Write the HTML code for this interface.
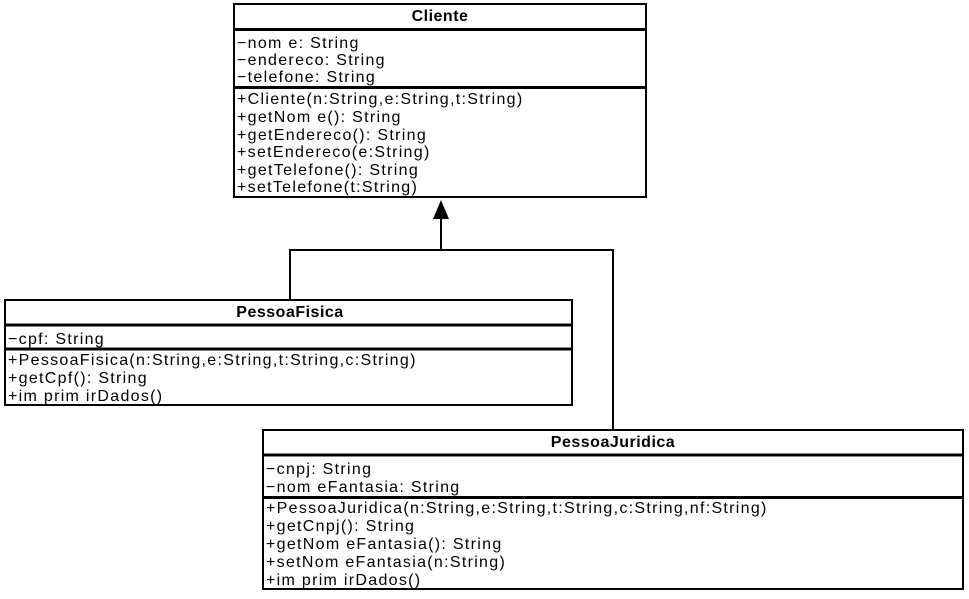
<!DOCTYPE html>
<html><head><style>
html,body{margin:0;padding:0;background:#fff;}
svg text{font-family:"Liberation Sans",Arial,sans-serif;font-size:16px;letter-spacing:1.3px;fill:#000;}
svg text.b{font-weight:bold;font-size:16px;letter-spacing:0.5px;}
</style></head><body>
<svg width="969" height="594" viewBox="0 0 969 594" xmlns="http://www.w3.org/2000/svg">
<g fill="none" stroke="#000" stroke-width="2">
<rect x="234" y="4" width="412" height="193"/>
<line x1="234" y1="29.5" x2="646" y2="29.5" stroke-width="3"/>
<line x1="234" y1="87.5" x2="646" y2="87.5" stroke-width="3"/>
<rect x="5" y="300" width="567" height="105"/>
<line x1="5" y1="325" x2="572" y2="325" stroke-width="3"/>
<line x1="5" y1="349" x2="572" y2="349" stroke-width="3"/>
<rect x="263" y="430" width="700" height="159"/>
<line x1="263" y1="455" x2="963" y2="455" stroke-width="3"/>
<line x1="263" y1="497.5" x2="963" y2="497.5" stroke-width="3"/>
<line x1="441" y1="218" x2="441" y2="250"/>
<polyline points="290,300 290,250 613,250 613,430"/>
</g>
<polygon points="441,200 433,219 449,219" fill="#000"/>
<text class="b" x="440" y="21" text-anchor="middle">Cliente</text>
<text x="237" y="48">−nom e: String</text>
<text x="237" y="65">−endereco: String</text>
<text x="237" y="82">−telefone: String</text>
<text x="237" y="104">+Cliente(n:String,e:String,t:String)</text>
<text x="237" y="122">+getNom e(): String</text>
<text x="237" y="140">+getEndereco(): String</text>
<text x="237" y="157">+setEndereco(e:String)</text>
<text x="237" y="175">+getTelefone(): String</text>
<text x="237" y="192">+setTelefone(t:String)</text>

<text class="b" x="290" y="317" text-anchor="middle">PessoaFisica</text>
<text x="8" y="344">−cpf: String</text>
<text x="8" y="365">+PessoaFisica(n:String,e:String,t:String,c:String)</text>
<text x="8" y="383">+getCpf(): String</text>
<text x="8" y="401">+im prim irDados()</text>

<text class="b" x="613" y="447" text-anchor="middle">PessoaJuridica</text>
<text x="266" y="474">−cnpj: String</text>
<text x="266" y="492">−nom eFantasia: String</text>
<text x="266" y="513">+PessoaJuridica(n:String,e:String,t:String,c:String,nf:String)</text>
<text x="266" y="531">+getCnpj(): String</text>
<text x="266" y="549">+getNom eFantasia(): String</text>
<text x="266" y="567">+setNom eFantasia(n:String)</text>
<text x="266" y="585">+im prim irDados()</text>
</svg>
</body></html>
